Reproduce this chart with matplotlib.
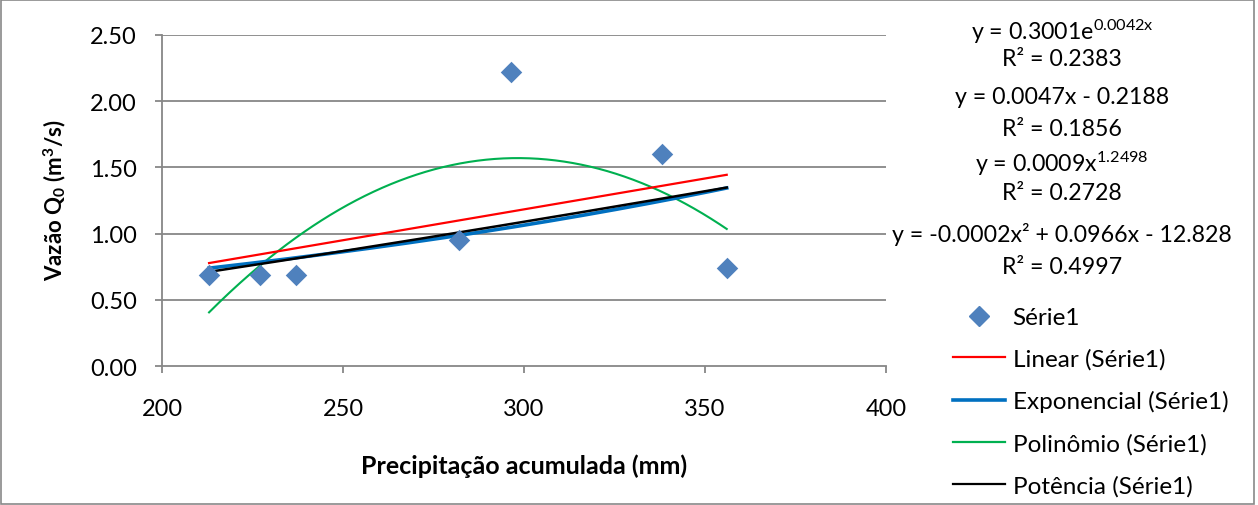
import numpy as np
import matplotlib
matplotlib.use("Agg")
import matplotlib.pyplot as plt
from matplotlib.lines import Line2D
from matplotlib.patches import Rectangle

plt.rcParams['font.family'] = ['Lato', 'DejaVu Sans']
plt.rcParams['mathtext.fontset'] = 'custom'
plt.rcParams['mathtext.rm'] = 'Lato'
plt.rcParams['mathtext.it'] = 'Lato'
plt.rcParams['mathtext.bf'] = 'Lato:bold'

# Data
precip = [213, 227, 237, 282, 296.5, 338, 356]
vazao = [0.69, 0.69, 0.69, 0.95, 2.22, 1.60, 0.74]
equations = [
    r"y = 0.3001e$^{\mathregular{0.0042x}}$", "R² = 0.2383",
    "y = 0.0047x - 0.2188", "R² = 0.1856",
    r"y = 0.0009x$^{\mathregular{1.2498}}$", "R² = 0.2728",
    "y = -0.0002x² + 0.0966x - 12.828", "R² = 0.4997",
]
legend_labels = ["Série1", "Linear (Série1)", "Exponencial (Série1)",
                 "Polinômio (Série1)", "Potência (Série1)"]
xticks = [200, 250, 300, 350, 400]
yticks = [0.0, 0.5, 1.0, 1.5, 2.0, 2.5]

x = np.array(precip, dtype=float)
y = np.array(vazao, dtype=float)
xs = np.linspace(x.min(), x.max(), 300)

lin = np.polyfit(x, y, 1)
y_lin = np.polyval(lin, xs)
ex = np.polyfit(x, np.log(y), 1)
y_exp = np.exp(np.polyval(ex, xs))
quad = np.polyfit(x, y, 2)
y_quad = np.polyval(quad, xs)
pw = np.polyfit(np.log(x), np.log(y), 1)
y_pow = np.exp(np.polyval(pw, np.log(xs)))

W, H = 1258, 506
fig = plt.figure(figsize=(W / 100, H / 100), dpi=100)
fig.patches.append(Rectangle((0.001, 0.002), 0.9955, 0.996, transform=fig.transFigure,
                             fill=False, edgecolor='#898989', linewidth=1.2))
ax = fig.add_axes([162 / W, 1 - 367 / H, (886 - 162) / W, (367 - 36) / H])

for yt in yticks[1:]:
    ax.axhline(yt, color='#878787', linewidth=1.3, zorder=0)

ax.plot(xs, y_quad, color='#00B050', linewidth=1.5, zorder=2)
ax.plot(xs, y_lin, color='#FF0000', linewidth=1.6, zorder=2)
ax.plot(xs, y_exp, color='#0070C0', linewidth=2.6, zorder=2)
ax.plot(xs, y_pow, color='#000000', linewidth=1.8, zorder=3)
ax.scatter(x, y, marker='D', s=120, color='#4F81BD', zorder=4, linewidths=0)

ax.set_xlim(200, 400)
ax.set_ylim(0, 2.5)
ax.set_xticks(xticks)
ax.set_yticks(yticks)
ax.set_yticklabels([f"{v:.2f}" for v in yticks])
ax.tick_params(axis='both', labelsize=17, color='#878787', length=5, width=1.3, direction='out')
ax.tick_params(axis='x', pad=18)
ax.tick_params(axis='y', pad=13)
for s in ['top', 'right']:
    ax.spines[s].set_visible(False)
for s in ['left', 'bottom']:
    ax.spines[s].set_color('#878787')
    ax.spines[s].set_linewidth(1.3)

fig.text(524 / W, 1 - 466 / H, "Precipitação acumulada (mm)", fontsize=18, fontweight='bold',
         ha='center', va='center')
fig.text(55 / W, 1 - 200 / H, r"Vazão Q$_\mathbf{0}$ (m$^\mathbf{3}$/s)", fontsize=16,
         fontweight='bold', ha='center', va='center', rotation=90)

eq_y = [32, 60, 98, 130, 164, 194, 235, 268]
for txt, py in zip(equations, eq_y):
    fig.text(1062 / W, 1 - py / H, txt, ha='center', va='center', fontsize=16.7)

handles = [
    Line2D([], [], marker='D', color='#4F81BD', linestyle='None', markersize=10.5),
    Line2D([], [], color='#FF0000', linewidth=1.6),
    Line2D([], [], color='#0070C0', linewidth=2.6),
    Line2D([], [], color='#00B050', linewidth=1.6),
    Line2D([], [], color='#000000', linewidth=1.6),
]
fig.legend(handles, legend_labels, loc='upper left', bbox_to_anchor=(953 / W, 1 - 308 / H),
           frameon=False, fontsize=17.5, handlelength=2.15, handletextpad=0.3, labelspacing=0.84,
           borderpad=0, borderaxespad=0)

fig.savefig("out.png", dpi=100)
